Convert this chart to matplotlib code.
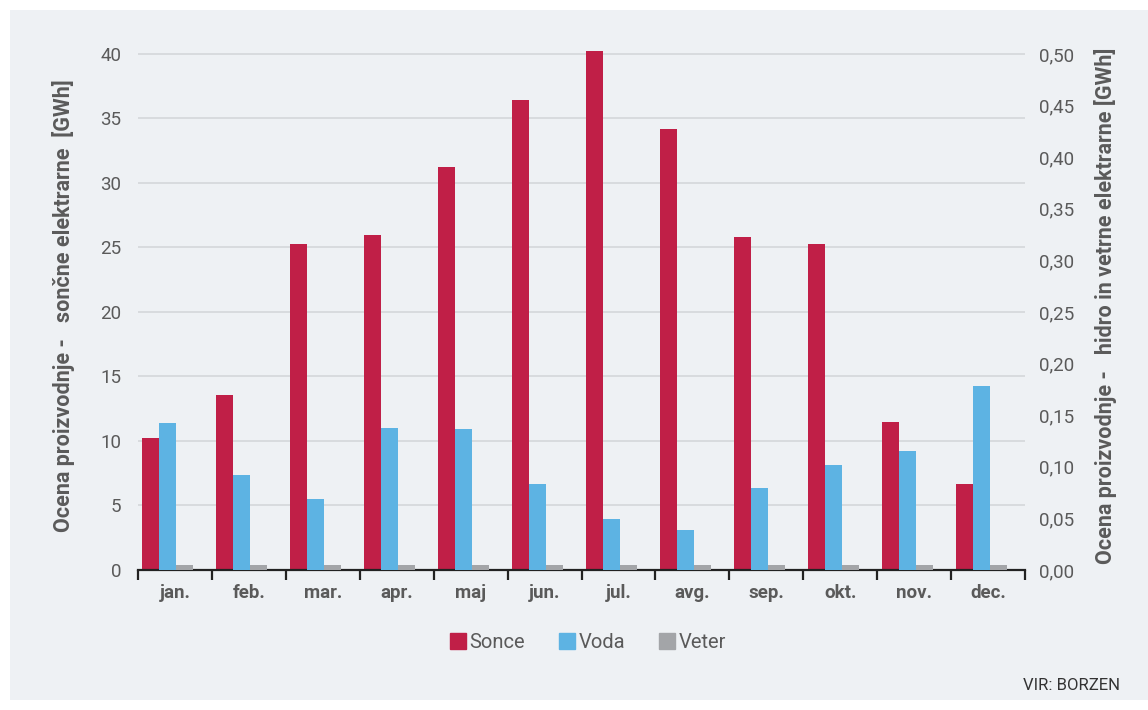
import numpy as np
import matplotlib.pyplot as plt
from matplotlib.patches import Rectangle
from matplotlib.lines import Line2D

months = ["jan.", "feb.", "mar.", "apr.", "maj", "jun.", "jul.", "avg.", "sep.", "okt.", "nov.", "dec."]
sonce = [10.2, 13.6, 25.3, 26.0, 31.2, 36.4, 40.2, 34.2, 25.8, 25.3, 11.5, 6.7]
voda = [0.142, 0.092, 0.069, 0.138, 0.137, 0.083, 0.049, 0.039, 0.079, 0.102, 0.115, 0.178]
veter = [0.005, 0.005, 0.005, 0.005, 0.005, 0.005, 0.005, 0.005, 0.005, 0.005, 0.005, 0.005]

c_sonce = "#c01f47"
c_voda = "#5db3e3"
c_veter = "#a3a5a8"
txt = "#5a5a5a"
bg = "#eef1f4"

plt.rcParams['font.family'] = ['Roboto', 'DejaVu Sans']

fig = plt.figure(figsize=(11.48, 7.10), dpi=100)
fig.patch.set_facecolor("white")
fig.patches.append(Rectangle((10 / 1148, 10 / 710), 1138 / 1148, 690 / 710,
                             transform=fig.transFigure, facecolor=bg, edgecolor="none", zorder=-10))

ax = fig.add_axes([138 / 1148, 1 - 570 / 710, (1025 - 138) / 1148, 529 / 710])
ax.set_facecolor("none")
ax2 = ax.twinx()

x = np.arange(len(months))
w = 0.23
ax.bar(x - 0.325, sonce, w, color=c_sonce, zorder=3)
ax2.bar(x - 0.095, voda, w, color=c_voda, zorder=3)
ax2.bar(x + 0.135, veter, w, color=c_veter, zorder=3)

ax.set_xlim(-0.5, len(months) - 0.5)
ax.set_ylim(0, 41)
ax2.set_ylim(0, 41 / 80)
ax.set_yticks(np.arange(0, 41, 5))
ax2.set_yticks(np.arange(0, 0.51, 0.05))
ax2.set_yticklabels([f"{v:.2f}".replace(".", ",") for v in np.arange(0, 0.51, 0.05)])

for y in np.arange(5, 41, 5):
    ax.axhline(y, color="#d6d9dc", lw=1.3, zorder=1)

for a in (ax, ax2):
    for s in ("top", "left", "right", "bottom"):
        a.spines[s].set_visible(False)
ax.spines["bottom"].set_visible(True)
ax.spines["bottom"].set_color("#222222")
ax.spines["bottom"].set_linewidth(1.6)
ax.spines["bottom"].set_zorder(5)

# month names sit between the boundary tick marks
ax.set_xticks(np.arange(-0.5, len(months)), minor=False)
ax.set_xticklabels([])
ax.set_xticks(x, minor=True)
ax.set_xticklabels(months, minor=True, fontsize=13.5, fontweight="bold", color=txt)
ax.tick_params(axis="x", which="major", length=7, width=1.6, color="#222222", direction="out")
ax.tick_params(axis="x", which="minor", length=0, pad=10)
ax.tick_params(axis="y", length=0, labelsize=13.5, labelcolor=txt, pad=12)
ax2.tick_params(axis="y", length=0, labelsize=13.5, labelcolor=txt, pad=10)

ax.set_ylabel("Ocena proizvodnje -   sončne elektrarne  [GWh]", fontsize=15.5,
              fontweight="bold", color=txt, labelpad=18)
ax2.set_ylabel("Ocena proizvodnje -   hidro in vetrne elektrarne [GWh]", fontsize=15.5,
               fontweight="bold", color=txt, rotation=90, labelpad=14)

handles = [Line2D([], [], marker="s", ls="none", color=c, markersize=11)
           for c in (c_sonce, c_voda, c_veter)]
fig.legend(handles, ["Sonce", "Voda", "Veter"], loc="center", bbox_to_anchor=(587 / 1148, 1 - 643 / 710),
           ncol=3, frameon=False, fontsize=14.5, handletextpad=0.05, handlelength=1.0,
           columnspacing=1.6, labelcolor=txt)

fig.text(1120 / 1148, 1 - 686 / 710, "VIR: BORZEN", ha="right", va="center", fontsize=12, color="#333333")

fig.savefig("out.png", dpi=100, facecolor=fig.get_facecolor())
